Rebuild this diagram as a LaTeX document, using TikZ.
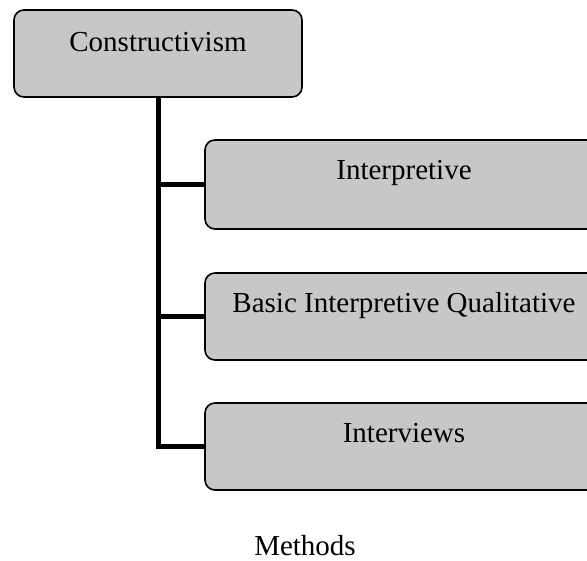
\documentclass[tikz,border=0pt]{standalone}
\usepackage{fontspec}
\setmainfont{Liberation Serif}
\begin{document}
\begin{tikzpicture}[x=1pt,y=1pt,
  box/.style={draw=black, line width=1.6pt, rounded corners=10pt, fill=black!22, inner sep=0pt},
  lbl/.style={anchor=base, inner sep=0pt, font=\fontsize{29}{34}\selectfont},
  conn/.style={line width=5pt, draw=black}]
\useasboundingbox (0,0) rectangle (587,-561);
\clip (0,0) rectangle (587,-561);
\node[box, minimum width=288pt, minimum height=87pt] (C) at (158,-53.5) {};
\node[box, minimum width=398pt, minimum height=89pt] (I) at (404,-184.5) {};
\node[box, minimum width=398pt, minimum height=87pt] (B) at (404,-316.5) {};
\node[box, minimum width=398pt, minimum height=87pt] (V) at (404,-446.5) {};
\node[lbl] (Ct) at ([yshift=-42pt]C.north) {Constructivism};
\node[lbl] (It) at ([yshift=-40pt]I.north) {Interpretive};
\node[lbl] (Bt) at ([yshift=-40pt]B.north) {Basic Interpretive Qualitative};
\node[lbl] (Vt) at ([yshift=-40pt]V.north) {Interviews};
\node[lbl] (M) at (305,-555) {Methods};
\draw[conn] (C.south) |- (V.west);
\draw[conn] (I.west) -- (I.west -| C.south);
\draw[conn] (B.west) -- (B.west -| C.south);
\end{tikzpicture}
\end{document}
